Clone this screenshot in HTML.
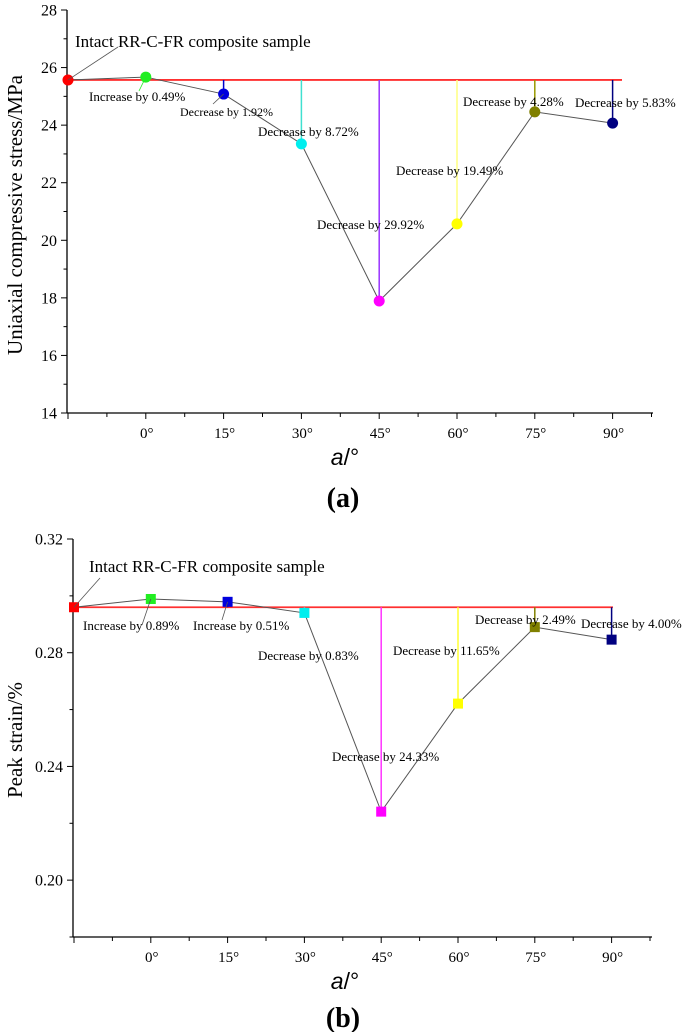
<!DOCTYPE html>
<html><head><meta charset="utf-8"><style>
html,body{margin:0;padding:0;background:#fff;}
svg{display:block;font-family:"Liberation Serif",serif;}
</style></head><body>
<svg id="svg" width="685" height="1032" viewBox="0 0 685 1032" xmlns="http://www.w3.org/2000/svg">
<g id="ga"></g>
<g id="gb"></g>
</svg>
<script>
const categories = ["Intact","0°","15°","30°","45°","60°","75°","90°"];
const colors = ["#ff0000","#22ee22","#0000dd","#00eeee","#ff00ff","#ffff00","#808000","#000080"];
const stressValues = [25.57,25.67,25.08,23.35,17.89,20.57,24.46,24.07];
const stressTicks = [14,16,18,20,22,24,26,28];
const strainValues = [0.296,0.2989,0.2979,0.294,0.2241,0.2621,0.289,0.2846];
const strainTicks = [0.20,0.24,0.28,0.32];
const stressLabels = ["Intact RR-C-FR composite sample","Increase by 0.49%","Decrease by 1.92%","Decrease by  8.72%","Decrease by  29.92%","Decrease by 19.49%","Decrease by 4.28%","Decrease by  5.83%"];
const strainLabels = ["Intact RR-C-FR composite sample","Increase by 0.89%","Increase by 0.51%","Decrease by  0.83%","Decrease by  24.33%","Decrease by 11.65%","Decrease by 2.49%","Decrease by 4.00%"];

const NS="http://www.w3.org/2000/svg";
function mk(parent,tag,attrs,text){const e=document.createElementNS(NS,tag);for(const k in attrs)e.setAttribute(k,attrs[k]);if(text!==undefined)e.textContent=text;parent.appendChild(e);return e;}

function drawChart(g,cfg){
  const xS=i=>cfg.x0+(i)*cfg.dx;
  const yS=v=>cfg.yTop+(cfg.yMax-v)/(cfg.yMax-cfg.yMin)*(cfg.yBot-cfg.yTop);
  let e=mk(g,"line",{x1:cfg.axX,y1:cfg.yTop,x2:cfg.axX,y2:cfg.yBot,stroke:"#000","stroke-width":1.3});
  
  e=mk(g,"line",{x1:cfg.axX,y1:cfg.yBot,x2:cfg.xEnd,y2:cfg.yBot,stroke:"#000","stroke-width":1.3});
  
  const step=cfg.ticks[1]-cfg.ticks[0];
  for(let v=cfg.yMin;v<=cfg.yMax+1e-9;v+=step/2){
    const y=yS(v);const major=cfg.ticks.some(t=>Math.abs(t-v)<1e-9);
    e=mk(g,"line",{x1:cfg.axX-(major?6:3.5),y1:y,x2:cfg.axX,y2:y,stroke:"#000","stroke-width":1});
    
  }
  cfg.ticks.forEach(t=>{
    e=mk(g,"text",{x:cfg.axX-10,y:yS(t)+5.5,"text-anchor":"end","font-size":16},cfg.fmt(t));
    
  });
  for(let i=0;i<categories.length;i++){
    e=mk(g,"line",{x1:xS(i),y1:cfg.yBot,x2:xS(i),y2:cfg.yBot+6,stroke:"#000","stroke-width":1});
    
    e=mk(g,"line",{x1:xS(i+0.5),y1:cfg.yBot,x2:xS(i+0.5),y2:cfg.yBot+4,stroke:"#000","stroke-width":1});
    
    if(i>0){
      e=mk(g,"text",{x:xS(i)+1,y:cfg.yBot+25,"text-anchor":"middle","font-size":15},categories[i]);
      
    }
  }
  e=mk(g,"text",{x:cfg.xtX,y:cfg.yBot+52,"text-anchor":"middle","font-size":23,"font-family":"Liberation Sans, sans-serif"});
  
  mk(e,"tspan",{"font-style":"italic"},"a");mk(e,"tspan",{},"/°");
  e=mk(g,"text",{x:0,y:0,"text-anchor":"middle","font-size":21,transform:`translate(${cfg.ytX},${cfg.ytY}) rotate(-90)`},cfg.yTitle);
  
  e=mk(g,"text",{x:343,y:cfg.panelY,"text-anchor":"middle","font-size":28,"font-weight":"bold"},cfg.panel);
  
  const ref=cfg.vals[0];
  e=mk(g,"line",{x1:xS(0),y1:yS(ref),x2:cfg.refEnd,y2:yS(ref),stroke:"#ff3030","stroke-width":1.8});
  
  for(let i=2;i<cfg.vals.length;i++){
    e=mk(g,"line",{x1:xS(i),y1:yS(ref),x2:xS(i),y2:yS(cfg.vals[i]),stroke:cfg.dropColors[i],"stroke-width":1.5});
    
  }
  const pts=cfg.vals.map((v,i)=>xS(i)+","+yS(v)).join(" ");
  e=mk(g,"polyline",{points:pts,fill:"none",stroke:"#555","stroke-width":1});
  
  cfg.vals.forEach((v,i)=>{
    if(cfg.square) e=mk(g,"rect",{x:xS(i)-5,y:yS(v)-5,width:10,height:10,fill:colors[i]});
    else e=mk(g,"circle",{cx:xS(i),cy:yS(v),r:5.5,fill:colors[i]});
    
  });
  cfg.labelPos.forEach((p,i)=>{
    e=mk(g,"text",{x:p[0],y:p[1],"font-size":p[2]},cfg.labels[i]);
    
  });
  cfg.leaders.forEach(l=>{
    e=mk(g,"line",{x1:xS(l[0]),y1:yS(cfg.vals[l[0]]),x2:l[1],y2:l[2],stroke:l[3],"stroke-width":0.8});
    
  });
}

drawChart(document.getElementById('ga'),{
  x0:68,dx:77.8,axX:67,xEnd:653,yTop:10,yBot:413,yMin:14,yMax:28,ticks:stressTicks,fmt:t=>String(t),
  vals:stressValues,square:false,refEnd:622,xtX:345,ytX:22,ytY:215,panel:"(a)",panelY:507,
  yTitle:"Uniaxial compressive stress/MPa",labels:stressLabels,
  dropColors:["","","#0000cc","#40e0d0","#9933ff","#ffff80","#999900","#000080"],
  labelPos:[[75,47,17],[89,101,13],[180,116,12],[258,136,13],[317,229,13],[396,175,13],[463,106,13],[575,107,13]],
  leaders:[[0,118,47,"#555"],[1,139,91,"#22ee22"],[2,213,104,"#555"]]
});
drawChart(document.getElementById('gb'),{
  x0:74,dx:76.8,axX:73,xEnd:652,yTop:539,yBot:937,yMin:0.18,yMax:0.32,ticks:strainTicks,fmt:t=>t.toFixed(2),
  vals:strainValues,square:true,refEnd:613,xtX:345,ytX:22,ytY:740,panel:"(b)",panelY:1027,
  yTitle:"Peak strain/%",labels:strainLabels,
  dropColors:["","","#0000cc","#40e0d0","#ff33ff","#ffff33","#808000","#000080"],
  labelPos:[[89,572,17],[83,630,13],[193,630,13],[258,660,13],[332,761,13],[393,655,13],[475,624,13],[581,628,13]],
  leaders:[[0,100,578,"#555"],[1,142,625,"#555"],[2,222,620,"#555"]]
});
</script>
</body></html>
